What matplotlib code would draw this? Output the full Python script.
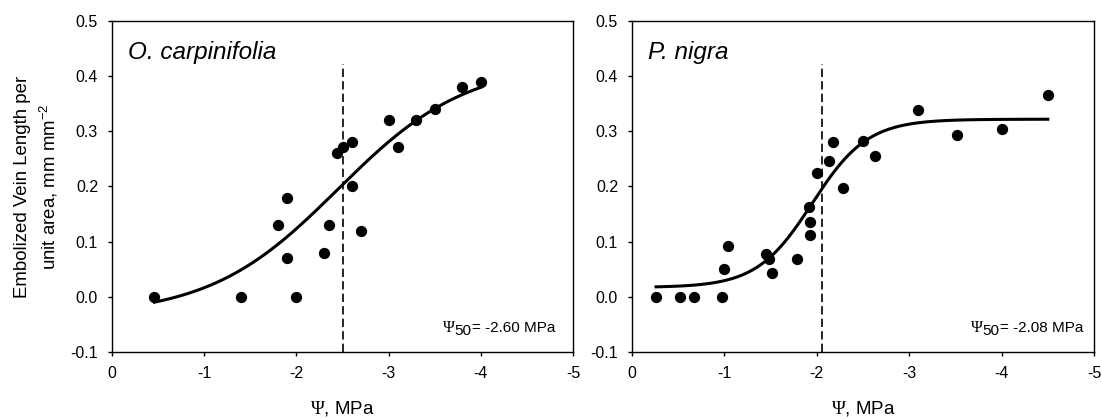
import numpy as np
import matplotlib
matplotlib.use("Agg")
import matplotlib.pyplot as plt

plt.rcParams['font.family'] = ['Liberation Sans', 'DejaVu Sans']
plt.rcParams['axes.unicode_minus'] = False
plt.rcParams['mathtext.fontset'] = 'custom'
plt.rcParams['mathtext.rm'] = 'Liberation Serif'

# O. carpinifolia data
oc_psi = [-0.46, -1.40, -1.80, -1.90, -1.90, -2.00, -2.30, -2.35, -2.44, -2.50,
          -2.60, -2.60, -2.70, -3.00, -3.10, -3.30, -3.50, -3.80, -4.00]
oc_vl = [0.0, 0.0, 0.131, 0.18, 0.07, 0.0, 0.08, 0.131, 0.261, 0.271,
         0.28, 0.20, 0.12, 0.32, 0.271, 0.32, 0.34, 0.38, 0.39]
# fitted sigmoid parameters (y0, a, x0, b)
oc_fit = (-0.035, 0.46, -2.45, 0.70)
oc_range = (-0.46, -4.00)
oc_p50_line = -2.51
oc_label = "-2.60"

# P. nigra data
pn_psi = [-0.26, -0.52, -0.67, -0.97, -1.00, -1.04, -1.45, -1.48, -1.51, -1.79,
          -1.92, -1.93, -1.93, -2.00, -2.13, -2.18, -2.28, -2.50, -2.63, -3.10,
          -3.52, -4.00, -4.50]
pn_vl = [0.0, 0.0, 0.0, 0.0, 0.050, 0.092, 0.078, 0.069, 0.044, 0.069,
         0.163, 0.135, 0.112, 0.224, 0.246, 0.280, 0.198, 0.283, 0.255, 0.338,
         0.294, 0.305, 0.365]
pn_fit = (0.017, 0.305, -1.95, 0.30)
pn_range = (-0.26, -4.50)
pn_p50_line = -2.06
pn_label = "-2.08"

xticks = [0, -1, -2, -3, -4, -5]
yticks = [-0.1, 0.0, 0.1, 0.2, 0.3, 0.4, 0.5]

fig = plt.figure(figsize=(11.02, 4.19), dpi=100)
ax1 = fig.add_axes([112/1102, 1-352/419, 461/1102, 331/419])
ax2 = fig.add_axes([632/1102, 1-352/419, 462/1102, 331/419])

def sig(x, p):
    y0, a, x0, b = p
    return y0 + a / (1 + np.exp((x - x0) / b))

def panel(ax, psi, vl, fit, rng, p50, lab, name, txt_x):
    xs = np.linspace(rng[0], rng[1], 300)
    ax.plot(xs, sig(xs, fit), color='black', lw=2.2, zorder=2)
    ax.scatter(psi, vl, s=66, color='black', zorder=3, linewidths=0)
    ax.plot([p50, p50], [-0.1, 0.422], color='black', lw=1.2, ls=(0, (5, 2.5)), zorder=1)
    ax.set_xlim(0, -5)
    ax.set_ylim(-0.1, 0.5)
    ax.set_xticks(xticks)
    ax.set_xticklabels([str(t) for t in xticks])
    ax.set_yticks(yticks)
    ax.set_yticklabels(["%.1f" % t for t in yticks])
    ax.tick_params(direction='out', length=3, width=1, labelsize=11.5)
    ax.tick_params(axis='y', pad=7)
    ax.tick_params(axis='x', pad=7)
    for sp in ax.spines.values():
        sp.set_linewidth(1.0)
    ax.set_xlabel(r'$\mathrm{\Psi}$, MPa', fontsize=13.5, va='center')
    ax.xaxis.set_label_coords(0.5, (352 - 408) / 331)
    ax.text(0.034, 0.905, name, transform=ax.transAxes, fontsize=17.5,
            style='italic', va='center', ha='left')
    t1 = ax.text(txt_x, 0.073, '= ' + lab + ' MPa', transform=ax.transAxes,
                 fontsize=11, ha='right', va='center')
    t2 = ax.annotate('50', xy=(0, 0.5), xycoords=t1, xytext=(0, -2.5),
                     textcoords='offset points', ha='right', va='center', fontsize=11)
    ax.annotate('\u03a8', xy=(0, 0.5), xycoords=t2, xytext=(0, 2.5),
                textcoords='offset points', ha='right', va='center', fontsize=11.5,
                family=['Liberation Serif', 'DejaVu Serif'])

panel(ax1, oc_psi, oc_vl, oc_fit, oc_range, oc_p50_line, oc_label, 'O. carpinifolia', 0.961)
panel(ax2, pn_psi, pn_vl, pn_fit, pn_range, pn_p50_line, pn_label, 'P. nigra', 0.976)

ax1.set_ylabel('Embolized Vein Length per\nunit area, mm mm$^{\\mathregular{-2}}$', fontsize=13.4,
               linespacing=1.3, va='center')
ax1.yaxis.set_label_coords((37 - 112) / 461, 0.5)

fig.savefig('out.png', dpi=100)
